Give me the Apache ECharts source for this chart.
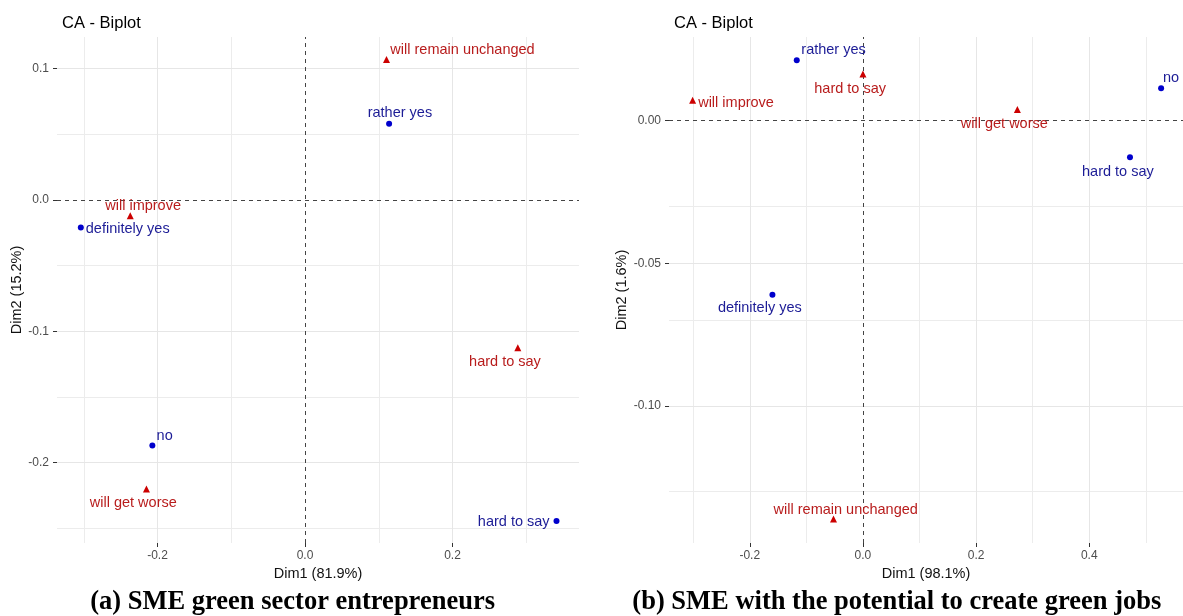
<!DOCTYPE html>
<html>
<head>
<meta charset="utf-8">
<script src="https://cdn.jsdelivr.net/npm/echarts@6/dist/echarts.min.js"></script>
<style>
html,body{margin:0;padding:0;background:#fff;}
#chart{width:1183px;height:616px;}
</style>
</head>
<body>
<div id="chart"></div>
<script>
// ---------- DATA ----------
// Panel (a)
const aRowNames = ['rather yes', 'definitely yes', 'no', 'hard to say'];
const aRowDim1 = [0.114, -0.304, -0.207, 0.341];
const aRowDim2 = [0.058, -0.021, -0.187, -0.2445];
const aColNames = ['will remain unchanged', 'will improve', 'hard to say', 'will get worse'];
const aColDim1 = [0.1105, -0.237, 0.2885, -0.215];
const aColDim2 = [0.107, -0.012, -0.1125, -0.220];
const aXTicks = [-0.2, 0.0, 0.2];
const aXMinor = [-0.3, -0.1, 0.1, 0.3];
const aYTicks = [0.1, 0.0, -0.1, -0.2];
const aYMinor = [0.05, -0.05, -0.15, -0.25];
const aXName = 'Dim1 (81.9%)';
const aYName = 'Dim2 (15.2%)';
const aCaption = '(a) SME green sector entrepreneurs';

// Panel (b)
const bRowNames = ['rather yes', 'no', 'hard to say', 'definitely yes'];
const bRowDim1 = [-0.117, 0.527, 0.472, -0.160];
const bRowDim2 = [0.0212, 0.0114, -0.0128, -0.061];
const bColNames = ['hard to say', 'will improve', 'will get worse', 'will remain unchanged'];
const bColDim1 = [0.0, -0.301, 0.273, -0.052];
const bColDim2 = [0.0164, 0.0072, 0.0039, -0.1396];
const bXTicks = [-0.2, 0.0, 0.2, 0.4];
const bXMinor = [-0.3, -0.1, 0.1, 0.3, 0.5];
const bYTicks = [0.0, -0.05, -0.10];
const bYMinor = [0.025, -0.025, -0.075, -0.125];
const bXName = 'Dim1 (98.1%)';
const bYName = 'Dim2 (1.6%)';
const bCaption = '(b) SME with the potential to create green jobs';

const plotTitle = 'CA - Biplot';

// ---------- LABEL LAYOUT (text-centre offsets in px, like ggrepel placement) ----------
const aRowLabelOffset = [[10.8, -10.4], [46.9, 1.6], [12.3, -10], [-42.8, 1.4]];
const aColLabelOffset = [[76, -9.3], [12.9, -10], [-12.8, 14.4], [-13.2, 14.4]];
const bRowLabelOffset = [[36.8, -10.3], [10, -10], [-12.1, 14.4], [-12.6, 13.6]];
const bColLabelOffset = [[-12.8, 15.3], [43.4, 2.7], [-13.1, 14.3], [12.2, -9]];

// ---------- STYLE ----------
const FONT = 'Liberation Sans, Arial, sans-serif';
const ROW_MARK = '#0000cc', ROW_TEXT = '#1c1c96';
const COL_MARK = '#cc0000', COL_TEXT = '#b81c1c';
const GRID_MAJOR = '#e6e6e6', GRID_MINOR = '#ececec';
const ROW_SIZE = 6, COL_SIZE = 7;

function pts(names, xs, ys, offs, size) {
  return names.map((n, i) => ({
    value: [xs[i], ys[i]],
    name: n,
    label: { position: [size / 2 + offs[i][0], size / 2 + offs[i][1]] }
  }));
}

function gridMarkLines(xMajor, xMinor, yMajor, yMinor) {
  const d = [];
  xMinor.forEach(v => d.push({ xAxis: v, lineStyle: { color: GRID_MINOR, width: 1, type: 'solid' } }));
  yMinor.forEach(v => d.push({ yAxis: v, lineStyle: { color: GRID_MINOR, width: 1, type: 'solid' } }));
  xMajor.forEach(v => { if (v !== 0) d.push({ xAxis: v, lineStyle: { color: GRID_MAJOR, width: 1, type: 'solid' } }); });
  yMajor.forEach(v => { if (v !== 0) d.push({ yAxis: v, lineStyle: { color: GRID_MAJOR, width: 1, type: 'solid' } }); });
  d.push({ xAxis: 0, lineStyle: { color: '#444', width: 1, type: [4, 4] } });
  d.push({ yAxis: 0, lineStyle: { color: '#444', width: 1, type: [4, 4] } });
  return {
    silent: true, z: 1, symbol: ['none', 'none'], animation: false,
    label: { show: false }, emphasis: { disabled: true },
    data: d
  };
}

function xAxisCfg(idx, min, max, ticks, name, dec, gap) {
  return {
    type: 'value', gridIndex: idx, min: min, max: max,
    name: name, nameLocation: 'middle', nameGap: gap,
    nameTextStyle: { fontFamily: FONT, fontSize: 14.5, color: '#111' },
    axisLine: { show: false, onZero: false },
    axisTick: { show: true, length: 4, lineStyle: { color: '#333', width: 1 }, customValues: ticks },
    axisLabel: { show: true, margin: 7, fontFamily: FONT, fontSize: 12, color: '#4d4d4d',
      customValues: ticks, formatter: v => Number(v).toFixed(dec) },
    splitLine: { show: false }, minorSplitLine: { show: false }
  };
}
function yAxisCfg(idx, min, max, ticks, name, dec, gap) {
  return {
    type: 'value', gridIndex: idx, min: min, max: max,
    name: name, nameLocation: 'middle', nameGap: gap, nameRotate: 90,
    nameTextStyle: { fontFamily: FONT, fontSize: 14.5, color: '#111' },
    axisLine: { show: false, onZero: false },
    axisTick: { show: true, length: 4, lineStyle: { color: '#333', width: 1 }, customValues: ticks },
    axisLabel: { show: true, margin: 8, fontFamily: FONT, fontSize: 12, color: '#4d4d4d',
      customValues: ticks, formatter: v => Number(v).toFixed(dec) },
    splitLine: { show: false }, minorSplitLine: { show: false }
  };
}

function seriesCfg(idx, data, symbol, size, markColor, textColor, withLines) {
  const s = {
    type: 'scatter', xAxisIndex: idx, yAxisIndex: idx,
    symbol: symbol, symbolSize: size,
    itemStyle: { color: markColor, opacity: 1 },
    label: { show: true, formatter: '{b}',
      fontFamily: FONT, fontSize: 14.5, color: textColor, align: 'center', verticalAlign: 'middle' },
    emphasis: { disabled: true },
    silent: true, z: 3, animation: false,
    data: data
  };
  if (withLines) s.markLine = withLines;
  return s;
}

const chart = echarts.init(document.getElementById('chart'), null, { renderer: 'canvas' });
const option = {
  backgroundColor: '#fff',
  animation: false,
  title: [
    { text: plotTitle, left: 57, top: 10, textStyle: { fontFamily: FONT, fontSize: 16.5, fontWeight: 'normal', color: '#000' } },
    { text: plotTitle, left: 669, top: 10, textStyle: { fontFamily: FONT, fontSize: 16.5, fontWeight: 'normal', color: '#000' } }
  ],
  grid: [
    { left: 57, top: 37, width: 522, height: 506, containLabel: false, outerBoundsMode: 'none' },
    { left: 669, top: 37, width: 514, height: 506, containLabel: false, outerBoundsMode: 'none' }
  ],
  xAxis: [
    xAxisCfg(0, -0.3363, 0.3715, aXTicks, aXName, 1, 22),
    xAxisCfg(1, -0.3428, 0.5657, bXTicks, bXName, 1, 22)
  ],
  yAxis: [
    yAxisCfg(0, -0.2612, 0.1241, aYTicks, aYName, 1, 26),
    yAxisCfg(1, -0.1480, 0.02934, bYTicks, bYName, 2, 31)
  ],
  series: [
    seriesCfg(0, pts(aRowNames, aRowDim1, aRowDim2, aRowLabelOffset, ROW_SIZE), 'circle', ROW_SIZE, ROW_MARK, ROW_TEXT,
      gridMarkLines(aXTicks, aXMinor, aYTicks, aYMinor)),
    seriesCfg(0, pts(aColNames, aColDim1, aColDim2, aColLabelOffset, COL_SIZE), 'triangle', COL_SIZE, COL_MARK, COL_TEXT, null),
    seriesCfg(1, pts(bRowNames, bRowDim1, bRowDim2, bRowLabelOffset, ROW_SIZE), 'circle', ROW_SIZE, ROW_MARK, ROW_TEXT,
      gridMarkLines(bXTicks, bXMinor, bYTicks, bYMinor)),
    seriesCfg(1, pts(bColNames, bColDim1, bColDim2, bColLabelOffset, COL_SIZE), 'triangle', COL_SIZE, COL_MARK, COL_TEXT, null)
  ],
  graphic: [
    { type: 'text', x: 292.6, y: 602, silent: true,
      style: { text: aCaption, fontFamily: 'Liberation Serif, Times New Roman, serif', fontWeight: 'bold', fontSize: 26.5,
        fill: '#000', textAlign: 'center', textVerticalAlign: 'middle' } },
    { type: 'text', x: 896.8, y: 602, silent: true,
      style: { text: bCaption, fontFamily: 'Liberation Serif, Times New Roman, serif', fontWeight: 'bold', fontSize: 26.5,
        fill: '#000', textAlign: 'center', textVerticalAlign: 'middle' } }
  ]
};
chart.setOption(option);
</script>
</body>
</html>
